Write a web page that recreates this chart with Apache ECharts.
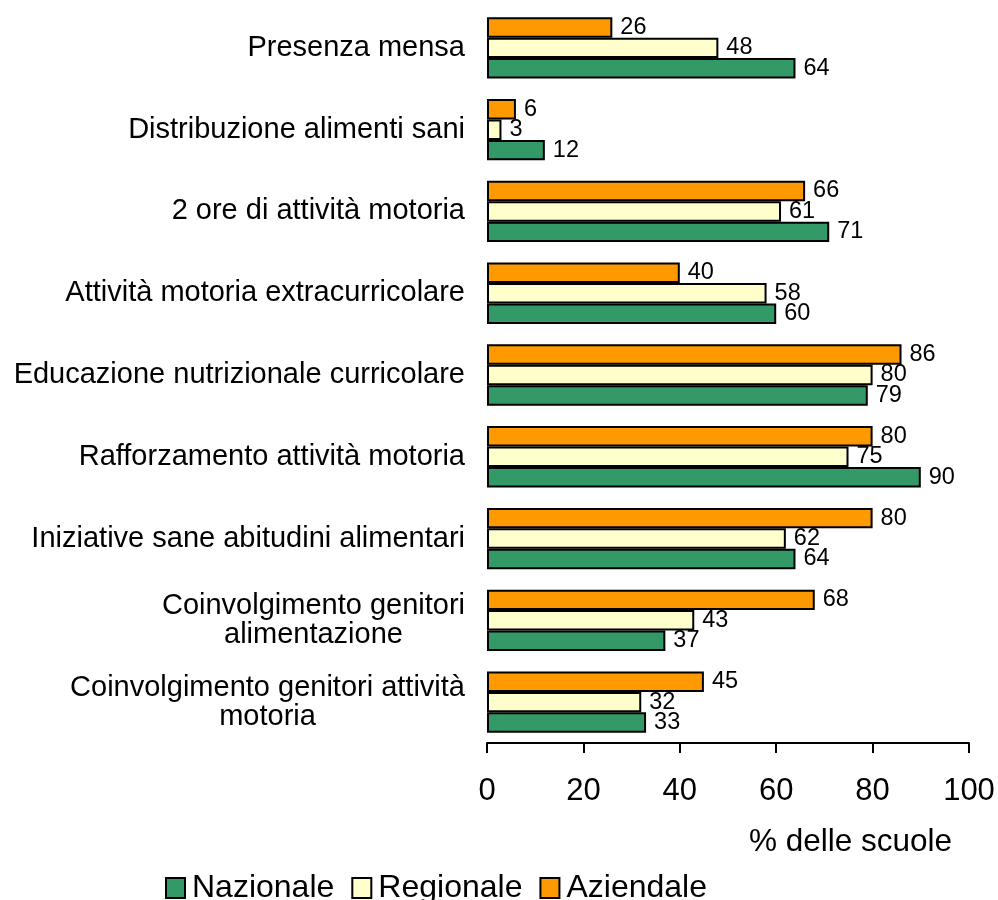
<!DOCTYPE html>
<html><head><meta charset="utf-8">
<script src="https://cdn.jsdelivr.net/npm/echarts@6/dist/echarts.min.js"></script>
<style>html,body{margin:0;padding:0;background:#fff}#c{width:998px;height:900px}</style>
</head><body><div id="c"></div>
<script>
var categories = [
  "Presenza mensa",
  "Distribuzione alimenti sani",
  "2 ore di attività motoria",
  "Attività motoria extracurricolare",
  "Educazione nutrizionale curricolare",
  "Rafforzamento attività motoria",
  "Iniziative sane abitudini alimentari",
  "Coinvolgimento genitori\nalimentazione",
  "Coinvolgimento genitori attività\nmotoria"
];
var nazionale = [64, 12, 71, 60, 79, 90, 64, 37, 33];
var regionale = [48, 3, 61, 58, 80, 75, 62, 43, 32];
var aziendale = [26, 6, 66, 40, 86, 80, 80, 68, 45];
var xTicks = [0, 20, 40, 60, 80, 100];

var font = "Liberation Sans, Arial, sans-serif";
function ser(name, data, color) {
  return {
    name: name, type: 'bar', data: data,
    barGap: '0%', barCategoryGap: '25%',
    itemStyle: { color: color, borderColor: '#000', borderWidth: 2 },
    label: { show: true, position: 'right', distance: 8, color: '#000', fontSize: 23.5, fontFamily: font },
    animation: false
  };
}
var chart = echarts.init(document.getElementById('c'));
chart.setOption({
  animation: false,
  title: { text: '% delle scuole', right: 46, top: 826, padding: 0, textStyle: { fontSize: 31.5, fontWeight: 'normal', color: '#000', fontFamily: font } },
  legend: {
    data: ['Nazionale', 'Regionale', 'Aziendale'],
    left: 165, top: 872, itemWidth: 19, itemHeight: 20, itemGap: 17, padding: 0,
    icon: 'rect',
    itemStyle: { borderColor: '#000', borderWidth: 2 },
    textStyle: { fontSize: 32, color: '#000', fontFamily: font, padding: [0, 0, 0, 2] }
  },
  grid: { left: 487, right: 29, top: 7, bottom: 157, containLabel: false },
  xAxis: {
    type: 'value', min: 0, max: 100, interval: 20,
    axisLine: { show: true, lineStyle: { color: '#000', width: 2 } },
    axisTick: { show: true, inside: false, length: 10, lineStyle: { color: '#000', width: 2 } },
    splitLine: { show: false },
    axisLabel: { fontSize: 31, color: '#000', fontFamily: font, margin: 33,
      formatter: function (v) { return xTicks.indexOf(v) >= 0 ? String(v) : ''; } }
  },
  yAxis: {
    type: 'category', data: categories, inverse: true,
    axisLine: { show: false }, axisTick: { show: false },
    axisLabel: {
      margin: 22, color: '#000', fontSize: 29, fontFamily: font, align: 'right',
      formatter: function (v) { return v.split('\n').map(function (s) { return '{c|' + s + '}'; }).join('\n'); },
      rich: { c: { align: 'center', fontSize: 29, fontFamily: font, color: '#000', lineHeight: 29 } }
    }
  },
  series: [
    ser('Aziendale', aziendale, '#FF9900'),
    ser('Regionale', regionale, '#FFFFCC'),
    ser('Nazionale', nazionale, '#339966')
  ]
});
</script></body></html>
